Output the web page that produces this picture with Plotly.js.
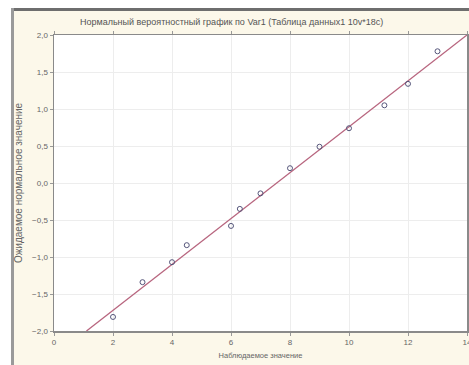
<!DOCTYPE html>
<html>
<head>
<meta charset="utf-8">
<script src="https://cdn.plot.ly/plotly-3.0.1.min.js"></script>
<style>html,body{margin:0;padding:0;background:#fff;}#chart{width:469px;height:365px;}</style>
</head>
<body>
<div id="chart"></div>
<script>
// Observed values and expected normal values
var observed = [2, 3, 4, 4.5, 6, 6.3, 7, 8, 9, 10, 11.2, 12, 13];
var expectedNormal = [-1.81, -1.34, -1.07, -0.84, -0.58, -0.35, -0.14, 0.2, 0.49, 0.74, 1.05, 1.34, 1.78];
// Fitted reference line endpoints
var lineX = [1.1, 14];
var lineY = [-2, 2];
var xTicks = [0, 2, 4, 6, 8, 10, 12, 14];
var yTicks = [-2, -1.5, -1, -0.5, 0, 0.5, 1, 1.5, 2];
var titleText = "Нормальный вероятностный график по Var1 (Таблица данных1 10v*18c)";
var xTitle = "Наблюдаемое значение";
var yTitle = "Ожидаемое нормальное значение";

function px(x){return (x-54)/413;}
function py(y){return (331-y)/296;}

var traces = [
  {x: lineX, y: lineY, mode: 'lines', line: {color: '#b8667f', width: 1.3}, hoverinfo: 'skip', cliponaxis: false},
  {x: observed, y: expectedNormal, mode: 'markers',
   marker: {symbol: 'circle-open', size: 5, color: '#55557a', line: {width: 1, color: '#55557a'}}}
];

var axFont = {family: 'Liberation Sans, Arial, sans-serif', size: 8, color: '#666'};

var layout = {
  width: 469, height: 365,
  margin: {l: 54, r: 2, t: 35, b: 34, pad: 0},
  paper_bgcolor: '#fcf8ea',
  plot_bgcolor: '#ffffff',
  showlegend: false,
  separators: ', ',
  font: axFont,
  title: {text: titleText, font: {family: 'Liberation Sans, Arial, sans-serif', size: 9, color: '#555'},
          x: 0.43, xref: 'paper', xanchor: 'center', y: 0.94, yref: 'container', yanchor: 'middle'},
  xaxis: {range: [0, 14], tickvals: xTicks, ticktext: xTicks.map(String), showgrid: true, gridcolor: '#ededed', gridwidth: 1,
          zeroline: false, showline: true, linecolor: '#8a8a8a', linewidth: 1.5, mirror: 'ticks',
          ticks: 'outside', ticklen: 3, tickcolor: '#999', tickfont: axFont, ticklabeloverflow: 'allow',
          title: {text: xTitle, font: {family: 'Liberation Sans, Arial, sans-serif', size: 7.5, color: '#666'}, standoff: 6}},
  yaxis: {range: [-2, 2], tickvals: yTicks, tickformat: '.1f', showgrid: true, gridcolor: '#ededed', gridwidth: 1,
          zeroline: false, showline: true, linecolor: '#8a8a8a', linewidth: 1.5, mirror: 'ticks',
          ticks: 'outside', ticklen: 3, tickcolor: '#999', tickfont: axFont,
          title: {text: yTitle, font: {family: 'Liberation Sans, Arial, sans-serif', size: 10, color: '#666'}, standoff: 7}},
  shapes: [
    {type: 'rect', xref: 'paper', yref: 'paper', x0: px(0), x1: px(469), y0: py(8), y1: py(0), fillcolor: '#ffffff', line: {width: 0}},
    {type: 'rect', xref: 'paper', yref: 'paper', x0: px(0), x1: px(11), y0: py(365), y1: py(0), fillcolor: '#ffffff', line: {width: 0}},
    {type: 'rect', xref: 'paper', yref: 'paper', x0: px(11), x1: px(469), y0: py(11), y1: py(8), fillcolor: '#6e6e6e', line: {width: 0}},
    {type: 'rect', xref: 'paper', yref: 'paper', x0: px(11), x1: px(14), y0: py(365), y1: py(8), fillcolor: '#9a9a9a', line: {width: 0}}
  ]
};

Plotly.newPlot('chart', traces, layout, {displayModeBar: false, staticPlot: true});
</script>
</body>
</html>
